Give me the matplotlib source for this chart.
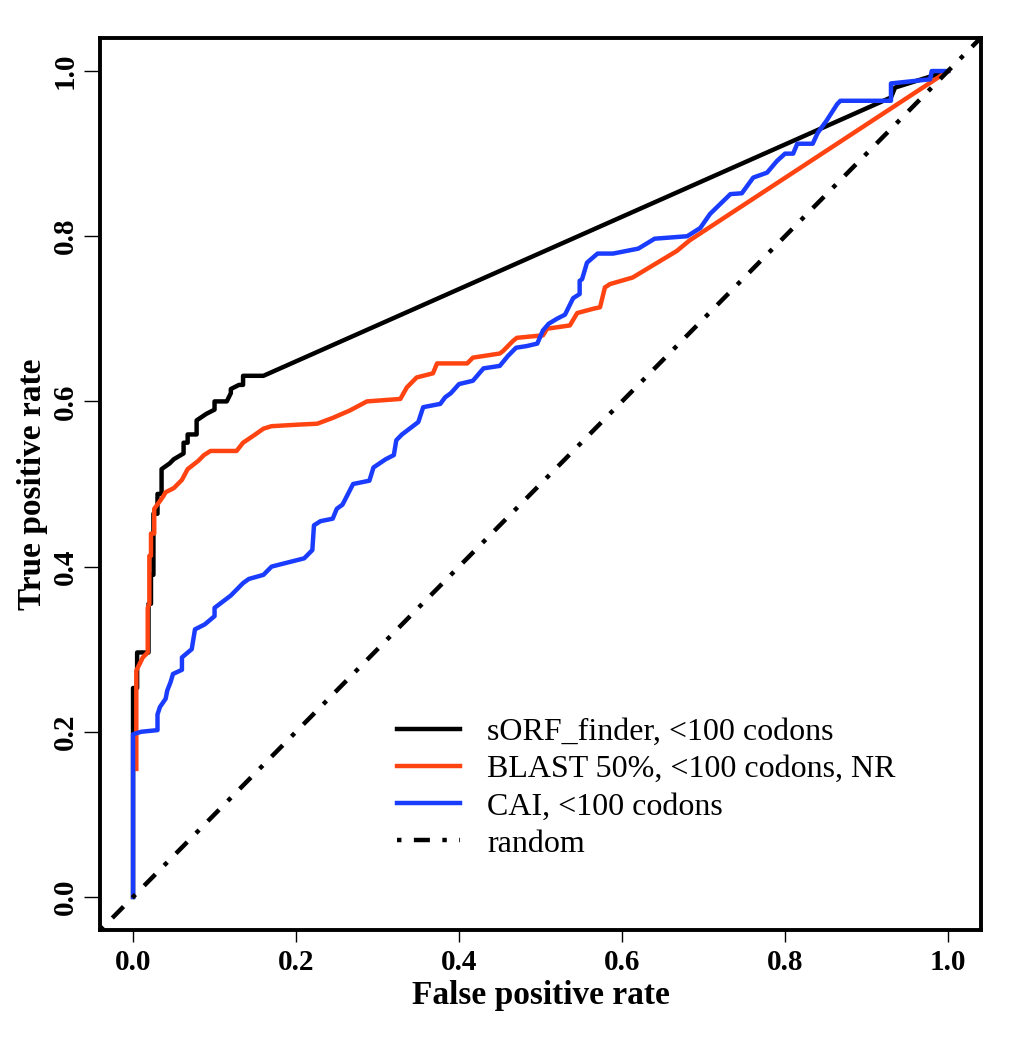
import matplotlib
matplotlib.use("Agg")
import matplotlib.pyplot as plt

# ROC points (false positive rate, true positive rate)
sorf_fpr = [0, 0, 0.005, 0.005, 0.019, 0.019, 0.022, 0.022, 0.025, 0.025, 0.03, 0.03,
            0.035, 0.035, 0.045, 0.05, 0.062, 0.062, 0.067, 0.067, 0.078, 0.078, 0.09,
            0.10, 0.10, 0.115, 0.12, 0.12, 0.13, 0.135, 0.135, 0.16, 0.93, 0.935, 1.0]
sorf_tpr = [0, 0.253, 0.253, 0.296, 0.296, 0.355, 0.355, 0.39, 0.39, 0.464, 0.464, 0.488,
            0.488, 0.518, 0.525, 0.53, 0.537, 0.55, 0.55, 0.56, 0.56, 0.577, 0.585,
            0.59, 0.60, 0.60, 0.61, 0.615, 0.62, 0.62, 0.631, 0.631, 0.968, 0.98, 1.0]

blast_fpr = [0.004, 0.004, 0.007, 0.012, 0.018, 0.018, 0.02, 0.02, 0.022, 0.022, 0.026,
             0.026, 0.032, 0.037, 0.04, 0.05, 0.06, 0.067, 0.08, 0.087, 0.095, 0.127,
             0.135, 0.15, 0.16, 0.17, 0.205, 0.226, 0.245, 0.266, 0.287, 0.328, 0.336,
             0.348, 0.368, 0.373, 0.41, 0.417, 0.45, 0.454, 0.466, 0.471, 0.503, 0.508,
             0.536, 0.545, 0.564, 0.573, 0.579, 0.585, 0.613, 0.667, 0.683, 1.0]
blast_tpr = [0.155, 0.274, 0.28, 0.29, 0.296, 0.35, 0.355, 0.413, 0.413, 0.44, 0.44,
             0.47, 0.478, 0.485, 0.49, 0.495, 0.505, 0.518, 0.528, 0.535, 0.54, 0.54,
             0.55, 0.56, 0.567, 0.57, 0.572, 0.573, 0.58, 0.589, 0.60, 0.603, 0.617,
             0.629, 0.634, 0.646, 0.646, 0.653, 0.658, 0.661, 0.673, 0.677, 0.68, 0.688,
             0.692, 0.707, 0.712, 0.714, 0.738, 0.742, 0.75, 0.782, 0.795, 1.0]

cai_fpr = [0, 0, 0.01, 0.03, 0.03, 0.033, 0.04, 0.042, 0.046, 0.049, 0.06, 0.06, 0.072,
           0.076, 0.088, 0.1, 0.1, 0.12, 0.135, 0.142, 0.16, 0.17, 0.21, 0.22, 0.222,
           0.23, 0.245, 0.25, 0.257, 0.27, 0.29, 0.295, 0.31, 0.32, 0.323, 0.33, 0.35,
           0.356, 0.377, 0.383, 0.39, 0.40, 0.417, 0.43, 0.45, 0.46, 0.47, 0.483, 0.496,
           0.503, 0.51, 0.52, 0.53, 0.54, 0.548, 0.548, 0.551, 0.557, 0.57, 0.589, 0.62,
           0.64, 0.68, 0.696, 0.708, 0.733, 0.747, 0.761, 0.778, 0.79, 0.80, 0.81, 0.815,
           0.834, 0.84, 0.851, 0.864, 0.868, 0.93, 0.93, 0.978, 0.98, 1.0]
cai_tpr = [0, 0.197, 0.2, 0.202, 0.221, 0.23, 0.24, 0.25, 0.26, 0.27, 0.275, 0.29, 0.30,
           0.324, 0.33, 0.34, 0.35, 0.365, 0.38, 0.385, 0.39, 0.40, 0.41, 0.42, 0.45,
           0.455, 0.458, 0.47, 0.475, 0.50, 0.504, 0.52, 0.53, 0.535, 0.553, 0.56, 0.575,
           0.593, 0.597, 0.605, 0.61, 0.621, 0.625, 0.64, 0.643, 0.655, 0.665, 0.667, 0.67,
           0.686, 0.694, 0.70, 0.705, 0.725, 0.73, 0.746, 0.748, 0.768, 0.779, 0.779, 0.785,
           0.797, 0.80, 0.81, 0.827, 0.851, 0.852, 0.871, 0.877, 0.891, 0.9, 0.9, 0.912,
           0.912, 0.925, 0.94, 0.96, 0.964, 0.964, 0.985, 0.99, 1.0, 1.0]

labels = ["sORF_finder, <100 codons", "BLAST 50%, <100 codons, NR",
          "CAI, <100 codons", "random"]
ticks = [0.0, 0.2, 0.4, 0.6, 0.8, 1.0]

plt.rcParams['font.family'] = ['Liberation Serif', 'DejaVu Serif']

fig = plt.figure(figsize=(10.25, 10.5), dpi=100)
ax = fig.add_axes([0.098, 0.1143, 0.8587, 0.8495])

lw = 3.2
ax.plot(sorf_fpr, sorf_tpr, color='black', lw=lw, label=labels[0])
ax.plot(blast_fpr, blast_tpr, color='#ff4412', lw=lw, label=labels[1])
ax.plot(cai_fpr, cai_tpr, color='#1a3cff', lw=lw, label=labels[2])
ax.axline((0, 0), (1, 1), color='black', lw=lw, linestyle=(0, (1, 2.8, 3.6, 2.8)),
          label=labels[3])

ax.set_xlim(-0.04, 1.04)
ax.set_ylim(-0.04, 1.04)
ax.set_xticks(ticks)
ax.set_yticks(ticks)
ax.set_xticklabels(['%.1f' % t for t in ticks], fontsize=21, fontweight='bold')
ax.set_yticklabels(['%.1f' % t for t in ticks], fontsize=21, fontweight='bold',
                   rotation=90, va='center')
ax.tick_params(axis='x', direction='out', length=8.5, width=1.0, pad=5)
ax.tick_params(axis='y', direction='out', length=11.5, width=1.0, pad=4)
for s in ax.spines.values():
    s.set_linewidth(2.8)

ax.set_xlabel('False positive rate', fontsize=24, fontweight='bold', labelpad=3)
ax.set_ylabel('True positive rate', fontsize=24, fontweight='bold', labelpad=3)

ax.legend(loc='upper left', bbox_to_anchor=(0.324, 0.217),
          bbox_transform=ax.transData, frameon=False, fontsize=23,
          handlelength=1.97, handletextpad=0.85, labelspacing=0.245,
          borderpad=0, borderaxespad=0)

fig.savefig('out.png', dpi=100)
